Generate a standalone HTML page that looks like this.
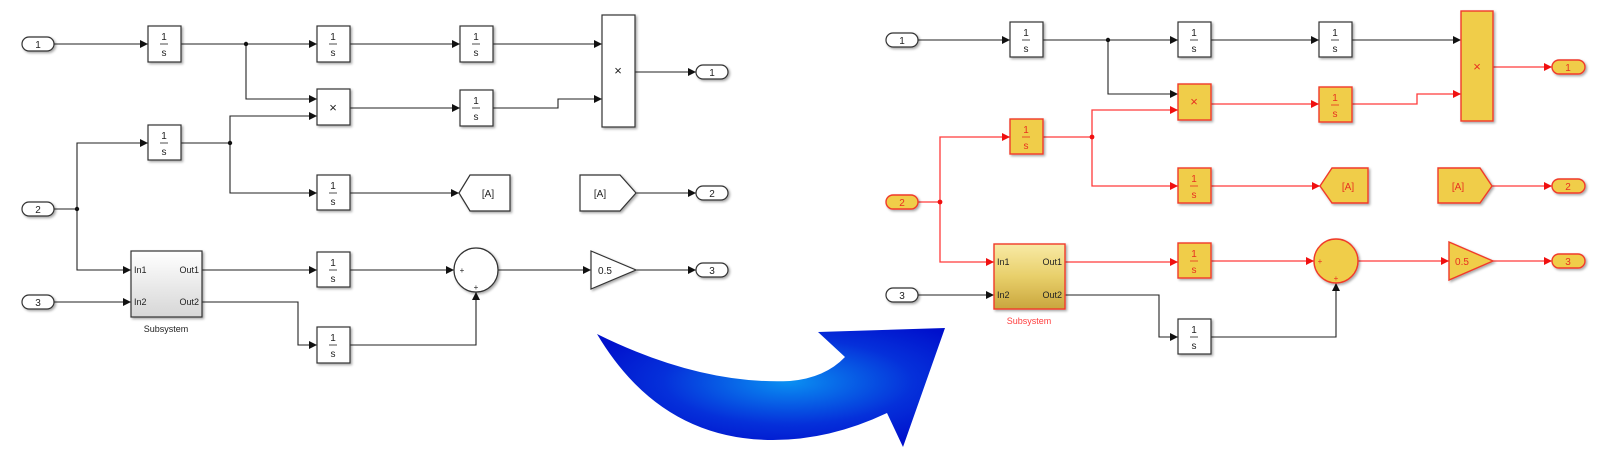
<!DOCTYPE html>
<html><head><meta charset="utf-8"><style>
html,body{margin:0;padding:0;background:#fff;width:1615px;height:456px;overflow:hidden}
svg{display:block}
text{font-family:"Liberation Sans",sans-serif}
.b{fill:#fff;stroke:#333;stroke-width:1.2}
.g{fill:#f0cd4a;stroke:#f03a2a;stroke-width:1.4}
.w{fill:none;stroke:#222;stroke-width:1.1}
.r{fill:none;stroke:#ff3a3a;stroke-width:1.3}
.t{font-size:10px;fill:#222;text-anchor:middle}
.tr{font-size:10px;fill:#e83020;text-anchor:middle}
</style></head><body>
<svg width="1615" height="456" viewBox="0 0 1615 456" xmlns="http://www.w3.org/2000/svg">
<defs>
<marker id="ab" markerWidth="8" markerHeight="8" refX="8" refY="4" orient="auto" markerUnits="userSpaceOnUse"><path d="M0,0 L8,4 L0,8 Z" fill="#111"/></marker>
<marker id="ar" markerWidth="8" markerHeight="8" refX="8" refY="4" orient="auto" markerUnits="userSpaceOnUse"><path d="M0,0 L8,4 L0,8 Z" fill="#f01010"/></marker>
<filter id="sh" x="-20%" y="-20%" width="150%" height="150%"><feDropShadow dx="1.5" dy="1.5" stdDeviation="1.2" flood-color="#000" flood-opacity="0.35"/></filter>
<linearGradient id="sgw" x1="0" y1="0" x2="0" y2="1"><stop offset="0" stop-color="#ffffff"/><stop offset="1" stop-color="#d6d6d6"/></linearGradient>
<linearGradient id="sgy" x1="0" y1="0" x2="0" y2="1"><stop offset="0" stop-color="#f8eaa6"/><stop offset="0.5" stop-color="#e8cf6a"/><stop offset="1" stop-color="#c9a63e"/></linearGradient>
<radialGradient id="ag" cx="0.55" cy="0.45" r="0.6"><stop offset="0" stop-color="#0a90f2"/><stop offset="0.6" stop-color="#0530da"/><stop offset="1" stop-color="#0010cc"/></radialGradient>
</defs>

<!-- ================= LEFT ================= -->
<g>
<!-- wires -->
<path class="w" d="M54,44 H148" marker-end="url(#ab)"/>
<path class="w" d="M181,44 H317" marker-end="url(#ab)"/>
<path class="w" d="M246,44 V99 H317" marker-end="url(#ab)"/>
<path class="w" d="M350,44 H460" marker-end="url(#ab)"/>
<path class="w" d="M493,44 H602" marker-end="url(#ab)"/>
<path class="w" d="M350,108 H460" marker-end="url(#ab)"/>
<path class="w" d="M493,108 H558 V99 H602" marker-end="url(#ab)"/>
<path class="w" d="M635,72 H696" marker-end="url(#ab)"/>
<path class="w" d="M54,209 H77 V143 H148" marker-end="url(#ab)"/>
<path class="w" d="M77,209 V270 H131" marker-end="url(#ab)"/>
<path class="w" d="M181,143 H230 V116 H317" marker-end="url(#ab)"/>
<path class="w" d="M230,143 V193 H317" marker-end="url(#ab)"/>
<path class="w" d="M350,193 H459" marker-end="url(#ab)"/>
<path class="w" d="M636,193 H696" marker-end="url(#ab)"/>
<path class="w" d="M54,302 H131" marker-end="url(#ab)"/>
<path class="w" d="M202,270 H317" marker-end="url(#ab)"/>
<path class="w" d="M350,270 H454" marker-end="url(#ab)"/>
<path class="w" d="M202,302 H298 V345 H317" marker-end="url(#ab)"/>
<path class="w" d="M350,345 H476 V292" marker-end="url(#ab)"/>
<path class="w" d="M498,270 H591" marker-end="url(#ab)"/>
<path class="w" d="M636,270 H696" marker-end="url(#ab)"/>
<circle cx="246" cy="44" r="2.2" fill="#111"/>
<circle cx="77" cy="209" r="2.2" fill="#111"/>
<circle cx="230" cy="143" r="2.2" fill="#111"/>

<!-- ports -->
<g filter="url(#sh)">
<rect class="b" x="22" y="37" width="32" height="14" rx="7"/>
<rect class="b" x="22" y="202" width="32" height="14" rx="7"/>
<rect class="b" x="22" y="295" width="32" height="14" rx="7"/>
<rect class="b" x="696" y="65" width="32" height="14" rx="7"/>
<rect class="b" x="696" y="186" width="32" height="14" rx="7"/>
<rect class="b" x="696" y="263" width="32" height="14" rx="7"/>
</g>
<text class="t" x="38" y="48">1</text><text class="t" x="38" y="213">2</text><text class="t" x="38" y="306">3</text>
<text class="t" x="712" y="76">1</text><text class="t" x="712" y="197">2</text><text class="t" x="712" y="274">3</text>

<!-- integrators -->
<g filter="url(#sh)">
<rect class="b" x="148" y="26" width="33" height="36"/>
<rect class="b" x="317" y="26" width="33" height="36"/>
<rect class="b" x="460" y="26" width="33" height="36"/>
<rect class="b" x="460" y="90" width="33" height="36"/>
<rect class="b" x="148" y="125" width="33" height="35"/>
<rect class="b" x="317" y="175" width="33" height="35"/>
<rect class="b" x="317" y="252" width="33" height="35"/>
<rect class="b" x="317" y="327" width="33" height="36"/>
<rect class="b" x="317" y="89" width="33" height="36"/>
<rect class="b" x="602" y="15" width="33" height="112"/>
<polygon class="b" points="459,193 470,175 510,175 510,211 470,211"/>
<polygon class="b" points="580,175 620,175 636,193 620,211 580,211"/>
<rect x="131" y="251" width="71" height="66" fill="url(#sgw)" stroke="#333" stroke-width="1.2"/>
<circle class="b" cx="476" cy="270" r="22"/>
<polygon class="b" points="591,251 636,270 591,289"/>
</g>
<g class="t">
<text x="164" y="40">1</text><text x="164" y="56">s</text>
<text x="333" y="40">1</text><text x="333" y="56">s</text>
<text x="476" y="40">1</text><text x="476" y="56">s</text>
<text x="476" y="104">1</text><text x="476" y="120">s</text>
<text x="164" y="139">1</text><text x="164" y="155">s</text>
<text x="333" y="189">1</text><text x="333" y="205">s</text>
<text x="333" y="266">1</text><text x="333" y="282">s</text>
<text x="333" y="341">1</text><text x="333" y="357">s</text>
<text x="333" y="112" font-size="13">×</text>
<text x="618" y="75" font-size="13">×</text>
<text x="488" y="197">[A]</text>
<text x="600" y="197">[A]</text>
<text x="605" y="274">0.5</text>
<text x="166" y="332" font-size="9">Subsystem</text>
<text x="462" y="273" font-size="8">+</text>
<text x="476" y="290" font-size="8">+</text>
</g>
<g font-size="9" fill="#222">
<text x="134" y="273">In1</text><text x="134" y="305">In2</text>
<text x="199" y="273" text-anchor="end">Out1</text><text x="199" y="305" text-anchor="end">Out2</text>
</g>
<g stroke="#222" stroke-width="0.8">
<line x1="160" y1="44" x2="168" y2="44"/><line x1="329" y1="44" x2="337" y2="44"/>
<line x1="472" y1="44" x2="480" y2="44"/><line x1="472" y1="108" x2="480" y2="108"/>
<line x1="160" y1="143" x2="168" y2="143"/><line x1="329" y1="193" x2="337" y2="193"/>
<line x1="329" y1="270" x2="337" y2="270"/><line x1="329" y1="345" x2="337" y2="345"/>
</g>
</g>

<!-- ================= ARROW ================= -->
<path d="M597,334 Q700,385 790,381 Q825,378 845,357 L818,332 L945,328 L903,447 L887,413 Q830,440 773,440 Q660,440 597,334 Z" fill="url(#ag)"/>

<!-- ================= RIGHT ================= -->
<g>
<path class="w" d="M918,40 H1010" marker-end="url(#ab)"/>
<path class="w" d="M1043,40 H1178" marker-end="url(#ab)"/>
<path class="w" d="M1108,40 V94 H1178" marker-end="url(#ab)"/>
<path class="w" d="M1211,40 H1319" marker-end="url(#ab)"/>
<path class="w" d="M1352,40 H1461" marker-end="url(#ab)"/>
<path class="w" d="M918,295 H994" marker-end="url(#ab)"/>
<path class="w" d="M1065,295 H1159 V337 H1178" marker-end="url(#ab)"/>
<path class="w" d="M1211,337 H1336 V283" marker-end="url(#ab)"/>
<circle cx="1108" cy="40" r="2.2" fill="#111"/>

<path class="r" d="M1211,104 H1319" marker-end="url(#ar)"/>
<path class="r" d="M1352,104 H1417 V94 H1461" marker-end="url(#ar)"/>
<path class="r" d="M1493,67 H1552" marker-end="url(#ar)"/>
<path class="r" d="M918,202 H940 V137 H1010" marker-end="url(#ar)"/>
<path class="r" d="M940,202 V262 H994" marker-end="url(#ar)"/>
<path class="r" d="M1043,137 H1092 V110 H1178" marker-end="url(#ar)"/>
<path class="r" d="M1092,137 V186 H1178" marker-end="url(#ar)"/>
<path class="r" d="M1211,186 H1320" marker-end="url(#ar)"/>
<path class="r" d="M1492,186 H1552" marker-end="url(#ar)"/>
<path class="r" d="M1065,262 H1178" marker-end="url(#ar)"/>
<path class="r" d="M1211,261 H1314" marker-end="url(#ar)"/>
<path class="r" d="M1358,261 H1449" marker-end="url(#ar)"/>
<path class="r" d="M1493,261 H1552" marker-end="url(#ar)"/>
<circle cx="940" cy="202" r="2.4" fill="#f01010"/>
<circle cx="1092" cy="137" r="2.4" fill="#f01010"/>

<g filter="url(#sh)">
<rect class="b" x="886" y="33" width="32" height="14" rx="7"/>
<rect class="g" x="886" y="195" width="32" height="14" rx="7"/>
<rect class="b" x="886" y="288" width="32" height="14" rx="7"/>
<rect class="g" x="1552" y="60" width="33" height="14" rx="7"/>
<rect class="g" x="1552" y="179" width="33" height="14" rx="7"/>
<rect class="g" x="1552" y="254" width="33" height="14" rx="7"/>

<rect class="b" x="1010" y="22" width="33" height="35"/>
<rect class="b" x="1178" y="22" width="33" height="35"/>
<rect class="b" x="1319" y="22" width="33" height="35"/>
<rect class="g" x="1319" y="87" width="33" height="35"/>
<rect class="g" x="1010" y="119" width="33" height="35"/>
<rect class="g" x="1178" y="168" width="33" height="35"/>
<rect class="g" x="1178" y="243" width="33" height="35"/>
<rect class="b" x="1178" y="319" width="33" height="35"/>
<rect class="g" x="1178" y="84" width="33" height="36"/>
<rect class="g" x="1461" y="11" width="32" height="110"/>
<polygon class="g" points="1320,186 1332,168 1368,168 1368,203 1332,203"/>
<polygon class="g" points="1438,168 1480,168 1492,186 1480,203 1438,203"/>
<rect x="994" y="244" width="71" height="65" fill="url(#sgy)" stroke="#f03a2a" stroke-width="1.4"/>
<circle class="g" cx="1336" cy="261" r="22"/>
<polygon class="g" points="1449,242 1493,261 1449,280"/>
</g>
<g class="t">
<text x="902" y="44">1</text><text x="902" y="299">3</text>
<text x="1026" y="36">1</text><text x="1026" y="52">s</text>
<text x="1194" y="36">1</text><text x="1194" y="52">s</text>
<text x="1335" y="36">1</text><text x="1335" y="52">s</text>
<text x="1194" y="333">1</text><text x="1194" y="349">s</text>
</g>
<g class="tr">
<text x="902" y="206">2</text>
<text x="1568" y="71">1</text><text x="1568" y="190">2</text><text x="1568" y="265">3</text>
<text x="1335" y="101">1</text><text x="1335" y="117">s</text>
<text x="1026" y="133">1</text><text x="1026" y="149">s</text>
<text x="1194" y="182">1</text><text x="1194" y="198">s</text>
<text x="1194" y="257">1</text><text x="1194" y="273">s</text>
<text x="1194" y="106" font-size="13">×</text>
<text x="1477" y="71" font-size="13">×</text>
<text x="1348" y="190">[A]</text>
<text x="1458" y="190">[A]</text>
<text x="1462" y="265">0.5</text>
<text x="1029" y="324" font-size="9" fill="#ff4040">Subsystem</text>
<text x="1320" y="264" font-size="8">+</text>
<text x="1336" y="281" font-size="8">+</text>
</g>
<g font-size="9" fill="#222">
<text x="997" y="265">In1</text><text x="997" y="298">In2</text>
<text x="1062" y="265" text-anchor="end">Out1</text><text x="1062" y="298" text-anchor="end">Out2</text>
</g>
<g stroke="#222" stroke-width="0.8">
<line x1="1022" y1="40" x2="1030" y2="40"/><line x1="1190" y1="40" x2="1198" y2="40"/>
<line x1="1331" y1="40" x2="1339" y2="40"/><line x1="1190" y1="337" x2="1198" y2="337"/>
</g>
<g stroke="#e83020" stroke-width="0.8">
<line x1="1331" y1="105" x2="1339" y2="105"/><line x1="1022" y1="137" x2="1030" y2="137"/>
<line x1="1190" y1="186" x2="1198" y2="186"/><line x1="1190" y1="261" x2="1198" y2="261"/>
</g>
</g>
</svg>
</body></html>
